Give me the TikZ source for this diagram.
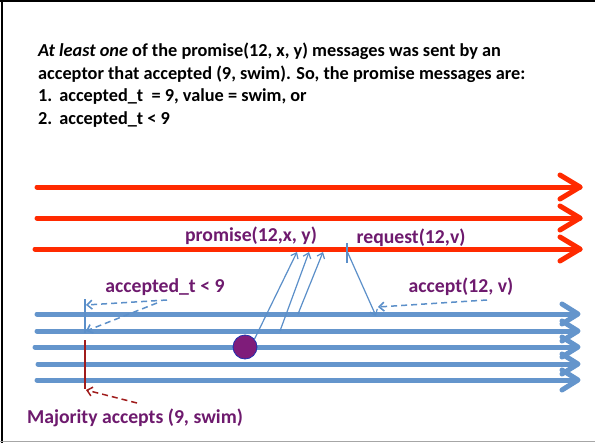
\documentclass[tikz,border=0pt]{standalone}
\usepackage{fontspec}
\setmainfont{Carlito}
\usetikzlibrary{arrows.meta}
\definecolor{txtpurple}{HTML}{6E1A6E}
\definecolor{redln}{HTML}{FF2A00}
\definecolor{blueln}{HTML}{6495CC}
\definecolor{thinblue}{HTML}{5B8FC9}
\definecolor{darkredln}{HTML}{A01C1C}
\definecolor{dotpurple}{HTML}{7F1C7A}
\definecolor{dotedge}{HTML}{2030B0}
\tikzset{
  maintext/.style={anchor=base west, inner sep=0, font=\bfseries\fontsize{18.3}{22}\selectfont},
  label/.style={anchor=base, inner sep=0, text=txtpurple, font=\bfseries\fontsize{19.7}{23}\selectfont},
  redline/.style={draw=redln, line width=5pt, line cap=round, line join=round},
  blueline/.style={draw=blueln, line width=5pt, line cap=round, line join=round},
  msg/.style={draw=thinblue, line width=1.2pt, -{Straight Barb[length=5pt,width=8pt]}},
  dashmsg/.style={draw=thinblue, line width=1.5pt, dash pattern=on 6pt off 4pt, -{Straight Barb[length=5pt,width=9pt]}},
  reddash/.style={draw=darkredln, line width=1.5pt, dash pattern=on 6pt off 4pt, -{Straight Barb[length=5pt,width=9pt]}},
}
\begin{document}
\begin{tikzpicture}[x=1pt,y=-1pt]
\useasboundingbox (0,0) rectangle (595,444);
\fill[white] (0,0) rectangle (595,444);
% frame
\draw[line width=2.5pt] (2,0) -- (2,443);
\draw[line width=2pt] (0,1.5) -- (595,1.5);
\draw[black!35, line width=1pt] (0,441.5) -- (595,441.5);
% text
\node[maintext] (t1) at (38,57) {\textit{At least one} of the promise(12, x, y) messages was sent by an};
\node[maintext] (t2) at (38,80) {acceptor that accepted (9, swim). So, the promise messages are:};
\node[maintext] (t3) at (38,102) {1.\hspace{7pt}accepted\_t \ = 9, value = swim, or};
\node[maintext] (t4) at (38,124.5) {2.\hspace{7pt}accepted\_t < 9};
% red lines
\foreach \yy/\xs in {187/37, 218/37, 249/35} {
  \draw[redline] (\xs,\yy) -- (580,\yy);
  \draw[redline] (560,\yy-12) -- (580,\yy) -- (560,\yy+12);
}
% blue lines
\foreach \yy/\xs in {314/37, 331/37, 347/35, 364/38, 380/37} {
  \draw[blueline] (\xs,\yy) -- (577,\yy);
  \draw[blueline] (562,\yy-10) -- (578,\yy) -- (562,\yy+10);
}
% labels
\node[label] (lp) at (251,241) {promise(12,x, y)};
\node[label] (lr) at (411,243) {request(12,v)};
\node[label] (la) at (165,292) {accepted\_t < 9};
\node[label] (lc) at (461,292) {accept(12, v)};
\node[label] (lm) at (135,423) {Majority accepts (9, swim)};
% acceptor dot
\node[circle, fill=dotpurple, draw=dotedge, line width=0.8pt, minimum size=24pt, inner sep=0] (dot) at (245,347) {};
% promise messages
\coordinate (p1) at (297,252);
\coordinate (p2) at (309,252);
\coordinate (p3) at (323,252);
\coordinate (s2) at (280,331);
\coordinate (s3) at (298,314);
\draw[msg] (dot.40) -- (p1);
\draw[msg] (s2) -- (p2);
\draw[msg] (s3) -- (p3);
% request message
\coordinate (rq0) at (347,243);
\coordinate (rq1) at (347,263);
\coordinate (rqs) at (347,251);
\coordinate (rqe) at (376,316);
\draw[draw=thinblue, line width=1.2pt] (rq0) -- (rq1);
\draw[msg] (rqs) -- (rqe);
% accept pointer
\coordinate (ac0) at (487,300);
\coordinate (ac1) at (378,307);
\draw[dashmsg] (ac0) -- (ac1);
% accepted_t < 9 pointers
\coordinate (v0) at (85,299);
\coordinate (v1) at (85,333);
\draw[draw=thinblue, line width=1.2pt] (v0) -- (v1);
\coordinate (d1s) at (167,300);
\coordinate (d1e) at (86,305);
\coordinate (d2s) at (157,303);
\coordinate (d2e) at (86,331);
\draw[dashmsg] (d1s) -- (d1e);
\draw[dashmsg] (d2s) -- (d2e);
% majority
\coordinate (m0) at (85,340);
\coordinate (m1) at (85,389);
\draw[draw=darkredln, line width=1.5pt] (m0) -- (m1);
\coordinate (md) at (137,403);
\coordinate (mt) at (86,390);
\draw[reddash] (md) -- (mt);
\end{tikzpicture}
\end{document}
